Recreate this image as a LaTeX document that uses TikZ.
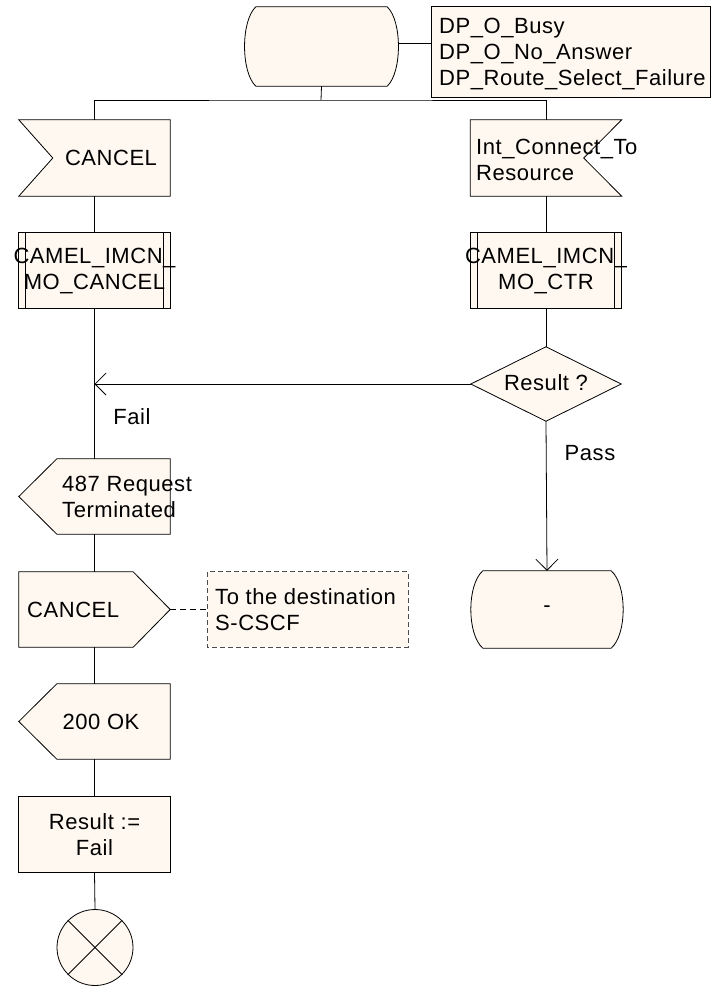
\documentclass[tikz,border=0pt]{standalone}
\usepackage{fontspec}
\setmainfont{Liberation Sans}[LetterSpace=2.5]
\usetikzlibrary{arrows.meta,calc}
\definecolor{sdlfill}{RGB}{255,248,240}
\begin{document}
\begin{tikzpicture}[x=1pt,y=-1pt,
  sdl/.style={draw=black,line width=0.8pt,fill=sdlfill},
  conn/.style={draw=black,line width=0.8pt},
  box/.style 2 args={minimum width=#1pt,minimum height=#2pt,inner sep=0pt,draw=none},
  txt/.style={font=\fontsize{22}{26}\selectfont,inner sep=0pt,align=center},
  tip/.style={-{Straight Barb[length=11pt,width=22pt]}}]
\useasboundingbox (0,0) rectangle (711,986);

% ---------- symbol frames (named) ----------
\node[box={153}{79}] (start) at (321.5,46.5) {};
\node[box={278}{90}] (note) at (571,52) {};
\node[box={151}{76}] (in1) at (94.5,158) {};
\node[box={151}{76}] (in2) at (546,158) {};
\node[box={151}{75}] (proc1) at (94.5,270.5) {};
\node[box={151}{75}] (proc2) at (546,270.5) {};
\node[box={150}{74}] (dec) at (546,384) {};
\node[box={151}{75}] (out1) at (94.5,496.5) {};
\node[box={151}{75}] (out2) at (94.5,609.5) {};
\node[box={200}{75}] (cmt) at (308,609.5) {};
\node[box={152}{77}] (state2) at (547,609.5) {};
\node[box={151}{75}] (out3) at (94.5,721.5) {};
\node[box={151}{75}] (task) at (94.5,834.5) {};
\node[circle,sdl,minimum size=76pt,inner sep=0pt] (stop) at (95,947.5) {};

% ---------- shapes ----------
% start state
\draw[sdl] ($(start.north west)+(11,0)$) -- ($(start.north east)+(-11,0)$)
  .. controls ($(start.north east)+(4,14)$) and ($(start.south east)+(4,-14)$) .. ($(start.south east)+(-11,0)$)
  -- ($(start.south west)+(11,0)$)
  .. controls ($(start.south west)+(-4,-14)$) and ($(start.north west)+(-4,14)$) .. cycle;
% note
\draw[sdl] (note.north west) rectangle (note.south east);
% input CANCEL (notch left)
\draw[sdl] (in1.north west) -- (in1.north east) -- (in1.south east) -- (in1.south west) -- ($(in1.west)+(34,0)$) -- cycle;
% input Int_Connect_To (notch right)
\draw[sdl] (in2.north west) -- (in2.north east) -- ($(in2.east)+(-38,0)$) -- (in2.south east) -- (in2.south west) -- cycle;
% procedures
\draw[sdl] (proc1.north west) rectangle (proc1.south east);
\draw[conn] ($(proc1.north west)+(7,0)$) -- ($(proc1.south west)+(7,0)$);
\draw[conn] ($(proc1.north east)+(-7,0)$) -- ($(proc1.south east)+(-7,0)$);
\draw[sdl] (proc2.north west) rectangle (proc2.south east);
\draw[conn] ($(proc2.north west)+(7,0)$) -- ($(proc2.south west)+(7,0)$);
\draw[conn] ($(proc2.north east)+(-7,0)$) -- ($(proc2.south east)+(-7,0)$);
% decision
\draw[sdl] (dec.north) -- (dec.east) -- (dec.south) -- (dec.west) -- cycle;
% outputs pointing left
\draw[sdl] ($(out1.north west)+(38,0)$) -- (out1.north east) -- (out1.south east) -- ($(out1.south west)+(38,0)$) -- (out1.west) -- cycle;
\draw[sdl] ($(out3.north west)+(38,0)$) -- (out3.north east) -- (out3.south east) -- ($(out3.south west)+(38,0)$) -- (out3.west) -- cycle;
% output pointing right
\draw[sdl] (out2.north west) -- ($(out2.north east)+(-37,0)$) -- (out2.east) -- ($(out2.south east)+(-37,0)$) -- (out2.south west) -- cycle;
% comment
\draw[sdl,dashed,draw=black!70,dash pattern=on 5pt off 3pt] (cmt.north west) rectangle (cmt.south east);
% end state
\draw[sdl] ($(state2.north west)+(12,0)$) -- ($(state2.north east)+(-12,0)$)
  .. controls ($(state2.north east)+(4,14)$) and ($(state2.south east)+(4,-14)$) .. ($(state2.south east)+(-12,0)$)
  -- ($(state2.south west)+(12,0)$)
  .. controls ($(state2.south west)+(-4,-14)$) and ($(state2.north west)+(-4,14)$) .. cycle;
% task
\draw[sdl] (task.north west) rectangle (task.south east);
% stop cross
\draw[conn] (stop.north west) -- (stop.south east);
\draw[conn] (stop.north east) -- (stop.south west);

% ---------- texts ----------
\node[txt,anchor=west,align=left] (notet) at (439,54) {DP\_O\_Busy\\DP\_O\_No\_Answer\\DP\_Route\_Select\_Failure};
\node[txt] (in1t) at (111,158) {CANCEL};
\node[txt,anchor=west,align=left] (in2t) at (476,159.5) {Int\_Connect\_To\\Resource};
\node[txt] (proc1t) at (94.5,271) {CAMEL\_IMCN\_\\MO\_CANCEL};
\node[txt] (proc2t) at (546,271) {CAMEL\_IMCN\_\\MO\_CTR};
\node[txt] (dect) at (546,383) {Result ?};
\node[txt] (failt) at (132,417) {Fail};
\node[txt] (passt) at (590,453) {Pass};
\node[txt,anchor=west,align=left] (out1t) at (62,497) {487 Request\\Terminated};
\node[txt,anchor=west] (out2t) at (27,609.5) {CANCEL};
\node[txt,anchor=west,align=left] (cmtt) at (215,609.5) {To the destination\\S-CSCF};
\node[txt] (state2t) at (547,609.5) {-};
\node[txt] (out3t) at (101,722) {200 OK};
\node[txt] (taskt) at (94.5,835) {Result :=\\Fail};

% ---------- connectors ----------
\coordinate (j) at (321,100);
\coordinate (fj) at (94.5,384);
\draw[conn] (start.south) -- (j);
\draw[conn] (in1.north) |- (j) -| (in2.north);
\draw[conn] (start.east |- 0,43) -- (note.west |- 0,43);
\draw[conn] (in1.south) -- (proc1.north);
\draw[conn] (proc1.south) -- (out1.north);
\draw[conn] (out1.south) -- (out2.north);
\draw[conn] (out2.south) -- (out3.north);
\draw[conn] (out3.south) -- (task.north);
\draw[conn] (task.south) -- (stop.north);
\draw[conn] (in2.south) -- (proc2.north);
\draw[conn] (proc2.south) -- (dec.north);
\draw[conn,tip] (dec.west) -- (fj);
\draw[conn,tip] (dec.south) -- (state2.north);
\draw[conn,dashed,dash pattern=on 6pt off 4pt] (out2.east) -- (cmt.west);
\end{tikzpicture}
\end{document}
